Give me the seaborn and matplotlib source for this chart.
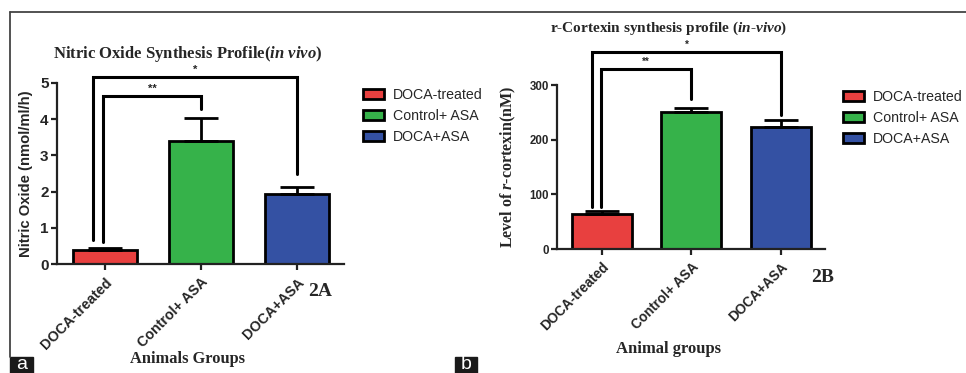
import seaborn as sns
import matplotlib.pyplot as plt
from matplotlib.patches import Patch, Rectangle
from matplotlib.lines import Line2D

# data
groups = ['DOCA-treated', 'Control+ ASA', 'DOCA+ASA']
colors = ['#e8403f', '#36b24a', '#3451a3']

no_mean = [0.38, 3.41, 1.92]
no_err = [0.05, 0.62, 0.20]

ctx_mean = [64, 251, 223]
ctx_err = [5, 7, 13]

# brackets: (left bar, right bar, top, left leg bottom, right leg bottom, label, left offset)
no_brackets = [(0, 1, 4.65, 0.62, 4.28, '**', -0.02),
               (0, 2, 5.16, 0.66, 2.50, '*', -0.12)]
ctx_brackets = [(0, 1, 329, 77, 274, '**', -0.01),
                (0, 2, 360, 77, 246, '*', -0.11)]

sns.set_style('ticks')
plt.rcParams['font.family'] = ['Liberation Sans', 'DejaVu Sans']
plt.rcParams['mathtext.fontset'] = 'custom'
plt.rcParams['mathtext.rm'] = 'Liberation Serif:bold'
plt.rcParams['mathtext.it'] = 'Liberation Serif:italic:bold'
plt.rcParams['mathtext.bf'] = 'Liberation Serif:bold'

W, H = 966, 373
fig = plt.figure(figsize=(W / 100, H / 100), dpi=100)


def rect(l, t, r, b):
    return [l / W, 1 - b / H, (r - l) / W, (b - t) / H]


def draw_panel(ax, means, errs, brackets, ymax, yticks, tick_fs, xt_fs, star_fs):
    sns.barplot(x=groups, y=means, hue=groups, palette=colors, ax=ax,
                edgecolor='black', linewidth=2, width=0.67, legend=False,
                errorbar=None, saturation=1)
    ax.errorbar(range(3), means, yerr=[[0] * 3, errs], fmt='none',
                ecolor='black', elinewidth=2, capsize=12, capthick=2, zorder=1)
    ax.set_ylim(0, ymax)
    ax.set_yticks(yticks)
    sns.despine(ax=ax)
    for s in ['left', 'bottom']:
        ax.spines[s].set_linewidth(1.6)
        ax.spines[s].set_color('#222222')
    ax.tick_params(length=4.5, width=1.6, color='#222222')
    ax.tick_params(axis='y', labelsize=tick_fs, pad=1.5)
    for lab in ax.get_yticklabels():
        lab.set_fontweight('bold')
    ax.set_xticks(range(3))
    ax.set_xticklabels(groups, rotation=45, ha='right', rotation_mode='anchor',
                       fontsize=xt_fs, fontweight='bold')
    ax.set_xlabel('')
    ax.set_xlim(-0.5, 2.49)
    for i, j, top, lb, rb, lab, off in brackets:
        xl = i + off
        ax.plot([xl, xl, j, j], [lb, top, top, rb], color='black', lw=2.2,
                clip_on=False, solid_joinstyle='miter')
        ax.text((xl + j) / 2, top + ymax * 0.012, lab, ha='center', va='bottom',
                fontsize=star_fs, fontweight='bold', clip_on=False)


# panel a
ax1 = fig.add_axes(rect(57, 83, 344, 264))
draw_panel(ax1, no_mean, no_err, no_brackets, 5, [0, 1, 2, 3, 4, 5], 11, 10.3, 8)
ax1.set_ylabel('Nitric Oxide (nmol/ml/h)', fontsize=10.7, fontweight='bold',
               family='Liberation Sans')
ax1.yaxis.set_label_coords(-0.084, 0.5)
fig.text(188 / W, 1 - 54 / H, r'Nitric Oxide Synthesis Profile($\it{in\ vivo}$)',
         ha='center', va='center', fontsize=12, family='Liberation Serif', weight='bold')
fig.text(188 / W, 1 - 359 / H, 'Animals Groups', ha='center', va='center',
         fontsize=11.8, family='Liberation Serif', weight='bold')
fig.text(320 / W, 1 - 292 / H, '2A', ha='center', va='center',
         fontsize=14, family='Liberation Serif', weight='bold')

# panel b
ax2 = fig.add_axes(rect(557, 85, 825, 249))
draw_panel(ax2, ctx_mean, ctx_err, ctx_brackets, 300, [0, 100, 200, 300], 8.3, 9.8, 7)
ax2.set_ylabel(r'Level of $\it{r}$-cortexin(nM)', fontsize=11.5,
               family='Liberation Serif', fontweight='bold')
ax2.yaxis.set_label_coords(-0.146, 0.5)
fig.text(669 / W, 1 - 28 / H, r'r-Cortexin synthesis profile ($\it{in}$-$\it{vivo}$)',
         ha='center', va='center', fontsize=11, family='Liberation Serif', weight='bold')
fig.text(668 / W, 1 - 349 / H, 'Animal groups', ha='center', va='center',
         fontsize=12, family='Liberation Serif', weight='bold')
fig.text(823 / W, 1 - 278 / H, '2B', ha='center', va='center',
         fontsize=14, family='Liberation Serif', weight='bold')

# legends
handles = [Patch(facecolor=c, edgecolor='black', linewidth=2) for c in colors]
for x0, y0 in [(363, 88), (843, 90)]:
    fig.legend(handles, groups, loc='upper left', bbox_to_anchor=(x0 / W, 1 - y0 / H),
               frameon=False, fontsize=10.2, handlelength=1.5, handleheight=0.7,
               handletextpad=0.6, labelspacing=0.5, borderpad=0, borderaxespad=0)

# frame lines and panel tags
fig.add_artist(Line2D([10 / W, 1], [1 - 12 / H, 1 - 12 / H], color='#444444', lw=1.3))
fig.add_artist(Line2D([10 / W, 10 / W], [1 - 12 / H, 1 - 357 / H], color='#444444', lw=1.3))
for x0, x1, lab in [(10, 33, 'a'), (455, 477, 'b')]:
    fig.add_artist(Rectangle((x0 / W, 0), (x1 - x0) / W, 16 / H,
                             transform=fig.transFigure, color='#1a1a1a'))
    fig.text((x0 + x1) / 2 / W, 0, lab, ha='center', va='bottom', color='white', fontsize=14)

fig.savefig('out.png', dpi=100)
